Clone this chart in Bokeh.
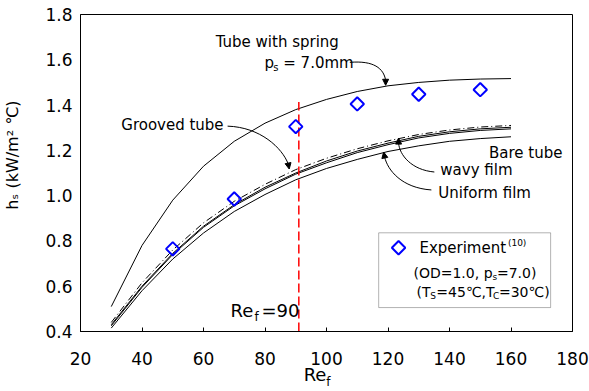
import math
from bokeh.plotting import figure
from bokeh.embed import file_html
from bokeh.resources import INLINE
from bokeh.models import (Label, Arrow, NormalHead, BoxAnnotation, LinearAxis,
                          FixedTicker, PrintfTickFormatter)

# ---------------- data ----------------
re_curve = [30, 40, 50, 60, 70, 80, 90, 100, 110, 120, 130, 140, 150, 160]
h_spring = [0.51, 0.78, 0.98, 1.13, 1.24, 1.32, 1.38, 1.425, 1.46, 1.485, 1.50, 1.51, 1.515, 1.517]
h_grooved = [0.44, 0.615, 0.76, 0.88, 0.975, 1.05, 1.115, 1.165, 1.207, 1.242, 1.27, 1.29, 1.303, 1.31]
h_bare = [0.43, 0.60, 0.745, 0.865, 0.96, 1.037, 1.10, 1.153, 1.197, 1.232, 1.262, 1.282, 1.295, 1.302]
h_wavy = [0.425, 0.595, 0.74, 0.86, 0.955, 1.03, 1.095, 1.145, 1.19, 1.225, 1.255, 1.275, 1.288, 1.295]
h_uniform = [0.415, 0.58, 0.72, 0.835, 0.93, 1.005, 1.07, 1.12, 1.16, 1.195, 1.22, 1.24, 1.252, 1.26]

re_exp = [50, 70, 90, 110, 130, 150]
h_exp = [0.765, 0.985, 1.305, 1.405, 1.448, 1.468]

re_marker = 91
marker_top = 1.414

x_ticks = [20, 40, 60, 80, 100, 120, 140, 160, 180]
y_ticks = [0.4, 0.6, 0.8, 1.0, 1.2, 1.4, 1.6, 1.8]

# ---------------- layout ----------------
W, H = 589, 391
BL, BR, BT, BB = 77, 17, 14, 59
X0, X1 = 20, 180
Y0, Y1 = 0.4, 1.8
FW = W - BL - BR
FH = H - BT - BB
FONT = "DejaVu Sans"
NB = "\u00a0"


def dx(px):
    return X0 + (px - BL) / FW * (X1 - X0)


def dy(py):
    return Y1 - (py - BT) / FH * (Y1 - Y0)


p = figure(width=W, height=H, x_range=(X0, X1), y_range=(Y0, Y1),
           output_backend="svg", toolbar_location=None,
           min_border_left=BL, min_border_right=BR, min_border_top=BT, min_border_bottom=BB)
p.grid.visible = False
p.outline_line_color = "black"
p.outline_line_width = 1
p.outline_line_alpha = 1

p.xaxis.ticker = FixedTicker(ticks=x_ticks)
p.yaxis.ticker = FixedTicker(ticks=y_ticks)
p.yaxis.formatter = PrintfTickFormatter(format="%.1f")
p.xaxis.major_tick_in = 4
p.xaxis.major_tick_out = 0
p.yaxis.major_tick_in = 0
p.yaxis.major_tick_out = 0
p.axis.minor_tick_in = 0
p.axis.minor_tick_out = 0
p.axis.axis_line_color = "black"
p.axis.major_tick_line_color = "black"
p.axis.major_label_text_font = FONT
p.axis.major_label_text_font_size = "17px"
p.axis.major_label_text_color = "black"
p.xaxis.major_label_standoff = 20
p.yaxis.major_label_standoff = 8

# axis titles
p.xaxis.axis_label = "Re" + NB * 4
p.xaxis.axis_label_text_font = FONT
p.xaxis.axis_label_text_font_size = "18px"
p.xaxis.axis_label_text_font_style = "normal"
p.xaxis.axis_label_text_color = "black"
p.xaxis.axis_label_standoff = -4

sub_axis = LinearAxis(ticker=FixedTicker(ticks=[]), axis_line_color=None,
                      major_tick_in=0, major_tick_out=0, minor_tick_in=0, minor_tick_out=0,
                      axis_label=NB + "f", axis_label_text_font=FONT,
                      axis_label_text_font_size="12px", axis_label_text_font_style="normal",
                      axis_label_text_color="black", axis_label_standoff=-13)
p.add_layout(sub_axis, "below")

p.yaxis.axis_label = NB * 7 + "h\u209b (kW/m\u00b2 \u2103)"
p.yaxis.axis_label_text_font = FONT
p.yaxis.axis_label_text_font_size = "16px"
p.yaxis.axis_label_text_font_style = "normal"
p.yaxis.axis_label_text_color = "black"
p.yaxis.axis_label_standoff = 20

# ---------------- curves ----------------
p.line(re_curve, h_spring, line_color="black", line_width=1)
p.line(re_curve, h_grooved, line_color="black", line_width=1, line_dash="7 3 1 3")
p.line(re_curve, h_bare, line_color="black", line_width=1)
p.line(re_curve, h_wavy, line_color="black", line_width=1)
p.line(re_curve, h_uniform, line_color="black", line_width=1)

p.line([re_marker, re_marker], [Y0, marker_top], line_color="red", line_width=1.5, line_dash="9 4")

p.scatter(re_exp, h_exp, marker="square", angle=math.pi / 4, size=9.5,
          fill_color=None, line_color="#0000ff", line_width=2)


# ---------------- annotations ----------------
def txt(s, px, py, size, angle=0.0):
    p.add_layout(Label(x=dx(px), y=dy(py), text=s, text_font=FONT,
                       text_font_size=f"{size}px", text_align="left",
                       text_baseline="middle", angle=angle, text_color="black"))


def curved_arrow(pts, tip):
    (x0, y0), (c1x, c1y), (c2x, c2y), (x1, y1) = pts
    p.bezier(x0=[dx(x0)], y0=[dy(y0)], x1=[dx(x1)], y1=[dy(y1)],
             cx0=[dx(c1x)], cy0=[dy(c1y)], cx1=[dx(c2x)], cy1=[dy(c2y)],
             line_color="black", line_width=1)
    p.add_layout(Arrow(end=NormalHead(size=6, fill_color="black", line_color="black"),
                       x_start=dx(x1), y_start=dy(y1), x_end=dx(tip[0]), y_end=dy(tip[1]),
                       line_color="black", line_width=1))


txt("Tube with spring", 213, 42, 15)
txt("p", 262, 63, 15)
txt("s", 271, 67, 10)
txt("= 7.0mm", 281, 63, 15)
curved_arrow([(348, 62), (372, 60), (382, 68), (384, 80)], (384, 85))

txt("Grooved tube", 118, 125, 15)
curved_arrow([(225, 126), (258, 127), (280, 148), (286, 164)], (287, 169))

txt("Bare tube", 488, 153, 15)
txt("wavy film", 439, 170, 15)
curved_arrow([(433, 172), (410, 170), (398, 155), (397, 143)], (397, 138))
txt("Uniform film", 437, 193, 15)
curved_arrow([(430, 190), (400, 188), (386, 170), (383, 157)], (382, 152))

txt("Re", 228, 311, 18)
txt("f", 252, 317, 12)
txt("=90", 259, 311, 18)

# legend box with its swatch and texts
p.add_layout(BoxAnnotation(left=dx(377), right=dx(550), top=dy(233), bottom=dy(308),
                           fill_color="white", fill_alpha=1, line_color="black", line_width=1))
p.scatter([dx(397)], [dy(248)], marker="square", angle=math.pi / 4, size=9.5,
          fill_color=None, line_color="#0000ff", line_width=2, level="overlay")
txt("Experiment", 418, 248, 15)
txt("(10)", 507, 243, 9)
txt("(OD=1.0, p", 412, 273, 14)
txt("s", 491.5, 277, 9)
txt("=7.0)", 496, 273, 14)
txt("(T", 415, 292, 14)
txt("S", 429, 296, 9)
txt("=45\u2103,T", 435, 292, 14)
txt("C", 492, 296, 9)
txt("=30\u2103)", 498, 292, 14)

open("out.html", "w").write(file_html(p, INLINE))
